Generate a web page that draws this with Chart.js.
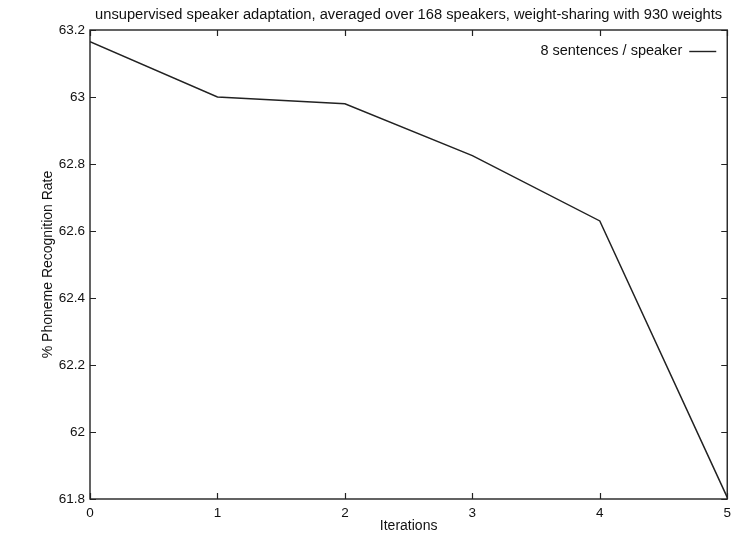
<!DOCTYPE html>
<html>
<head>
<meta charset="utf-8">
<title>Speaker adaptation</title>
<script src="https://cdn.jsdelivr.net/npm/chart.js@4/dist/chart.umd.min.js"></script>
<style>
    html, body { margin: 0; padding: 0; background: #fff; }
    #wrap { width: 737px; height: 535px; }
</style>
</head>
<body>
<div id="wrap"><canvas id="adaptChart"></canvas></div>
<script>
// Recognition rate after each adaptation iteration
const iterations = [0, 1, 2, 3, 4, 5];
const recognitionRate = [63.165, 63.0, 62.98, 62.825, 62.63, 61.805];
const seriesLabel = '8 sentences / speaker';
const chartTitle = 'unsupervised speaker adaptation, averaged over 168 speakers, weight-sharing with 930 weights';

const FONT = "'Liberation Sans', Arial, Helvetica, sans-serif";
const INK = '#222';

// gnuplot-style box with inward ticks, title over the plot and an inline key
const framePlugin = {
    id: 'frame',
    afterDatasetsDraw(chart) {
        const { ctx, chartArea: a, scales: { x, y } } = chart;
        ctx.save();
        ctx.strokeStyle = INK;
        ctx.lineWidth = 1.4;
        ctx.strokeRect(a.left, a.top, a.right - a.left, a.bottom - a.top);

        ctx.beginPath();
        y.ticks.forEach((t, i) => {
            const py = Math.round(y.getPixelForTick(i)) + 0.5;
            ctx.moveTo(a.left, py); ctx.lineTo(a.left + 6, py);
            ctx.moveTo(a.right, py); ctx.lineTo(a.right - 6, py);
        });
        x.ticks.forEach((t, i) => {
            const px = Math.round(x.getPixelForTick(i)) + 0.5;
            ctx.moveTo(px, a.bottom); ctx.lineTo(px, a.bottom - 6);
            ctx.moveTo(px, a.top); ctx.lineTo(px, a.top + 6);
        });
        ctx.lineWidth = 1.2;
        ctx.stroke();

        ctx.fillStyle = '#111';
        ctx.textBaseline = 'middle';

        // title, centred over the plot box
        ctx.font = '14.7px ' + FONT;
        ctx.textAlign = 'center';
        ctx.fillText(chartTitle, (a.left + a.right) / 2, a.top - 15);

        // key
        const ky = a.top + 21;
        ctx.font = '14.5px ' + FONT;
        ctx.textAlign = 'right';
        ctx.fillText(seriesLabel, a.right - 45, ky);
        ctx.beginPath();
        ctx.moveTo(a.right - 38, ky + 0.5);
        ctx.lineTo(a.right - 11, ky + 0.5);
        ctx.lineWidth = 1.4;
        ctx.stroke();
        ctx.restore();
    }
};

const ctx = document.getElementById('adaptChart');
new Chart(ctx, {
    type: 'line',
    data: {
        labels: iterations,
        datasets: [{
            label: seriesLabel,
            data: iterations.map((it, i) => ({ x: it, y: recognitionRate[i] })),
            borderColor: INK,
            borderWidth: 1.5,
            pointRadius: 0,
            tension: 0,
            fill: false
        }]
    },
    options: {
        responsive: true,
        maintainAspectRatio: false,
        animation: false,
        devicePixelRatio: 1,
        layout: { padding: { left: 40, right: 6, top: 30, bottom: 0 } },
        plugins: {
            legend: { display: false },
            tooltip: { enabled: false },
            title: { display: false }
        },
        scales: {
            x: {
                type: 'linear',
                min: 0,
                max: 5,
                grid: { display: false, drawTicks: false },
                border: { display: false },
                ticks: {
                    stepSize: 1,
                    padding: 6,
                    color: '#111',
                    font: { family: FONT, size: 13.5 }
                },
                title: {
                    display: true,
                    text: 'Iterations',
                    color: '#111',
                    font: { family: FONT, size: 14 },
                    padding: { top: 0, bottom: 0 }
                },
                afterFit(scale) { scale.height = 36; }
            },
            y: {
                min: 61.8,
                max: 63.2,
                grid: { display: false, drawTicks: false },
                border: { display: false },
                ticks: {
                    stepSize: 0.2,
                    padding: 5,
                    color: '#111',
                    font: { family: FONT, size: 13.5 },
                    callback: v => String(Number(v.toFixed(1)))
                },
                title: {
                    display: true,
                    text: '% Phoneme Recognition Rate',
                    color: '#111',
                    font: { family: FONT, size: 14 },
                    padding: { top: 0, bottom: 0 }
                },
                afterFit(scale) { scale.width = 50; }
            }
        }
    },
    plugins: [framePlugin]
});
</script>
</body>
</html>
